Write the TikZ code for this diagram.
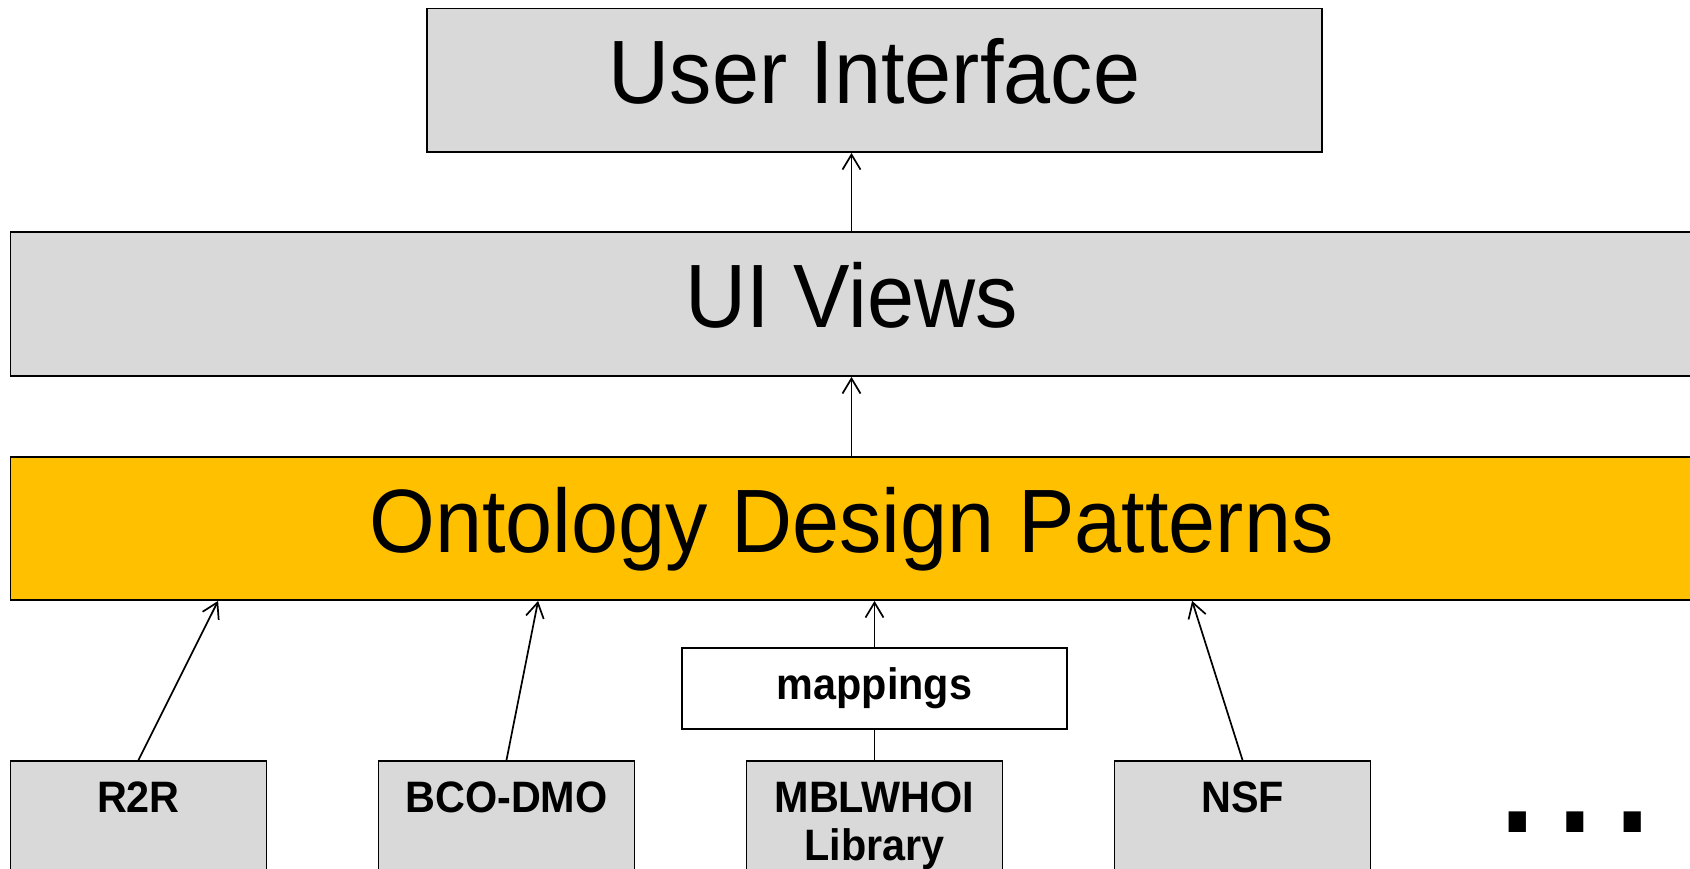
\documentclass[tikz,border=0pt]{standalone}
\usepackage{fontspec}
\setmainfont{Liberation Sans}
\newfontfamily\boxfont[FakeStretch=0.94]{Liberation Sans}
\usetikzlibrary{arrows.meta,positioning}
\definecolor{layergray}{HTML}{D9D9D9}
\definecolor{odpgold}{HTML}{FFC000}
\newcommand{\layerfont}{\boxfont\fontsize{90}{100}\selectfont}
\newcommand{\srcfont}{\boxfont\bfseries\fontsize{44}{48.3}\selectfont}

\tikzset{
  layer/.style={draw, line width=1.8pt, fill=layergray, inner sep=0pt,
    font=\layerfont, text height=66pt, text depth=19pt},
  source/.style={draw, line width=1.8pt, fill=layergray, anchor=north,
    minimum width=256pt, inner xsep=0pt, inner ysep=20.5pt, align=center,
    font=\srcfont, text depth=70pt},
  maps/.style={draw, line width=1.8pt, fill=white, inner sep=0pt,
    minimum width=385pt, minimum height=81pt, font=\srcfont},
}

\begin{document}
\begin{tikzpicture}[x=1pt, y=-1pt, >={Straight Barb[length=15pt,width=18pt]},
  line width=1.7pt]
\clip (0,0) rectangle (1690,869);

\node[layer, minimum width=895pt, minimum height=143.5pt] (ui) at (874.5,80.3) {User Interface};
\node[layer, minimum width=1682pt, minimum height=144pt] (views) at (851.5,304) {UI Views};
\node[layer, fill=odpgold, minimum width=1682pt, minimum height=143pt] (odp) at (851.5,528.5) {Ontology Design Patterns};

\node[maps] (map) at (874.5,688.5) {mappings};

\node[source] (r2r) at (138.5,760) {R2R};
\node[source] (bco) at (506.5,760) {BCO-DMO};
\node[source] (mbl) at (874.5,760) {MBLWHOI\\Library};
\node[source] (nsf) at (1242.5,760) {NSF};

\node[font=\boxfont\fontsize{193}{200}\selectfont, anchor=base, inner sep=0pt,
  text height=20pt, text depth=0pt] (more) at (1575.5,832.7) {…};

\coordinate (r2rIn) at ([xshift=208.5pt]odp.south west);
\coordinate (bcoIn) at ([xshift=528.5pt]odp.south west);
\coordinate (nsfIn) at ([xshift=1182.5pt]odp.south west);

\draw[->] (views.north) -- (views.north |- ui.south);
\draw[->] (odp.north) -- (views.south);
\draw[->] (r2r.north) -- (r2rIn);
\draw[->] (bco.north) -- (bcoIn);
\draw[->] (map.north) -- (map.north |- odp.south);
\draw (mbl.north) -- (map.south);
\draw[->] (nsf.north) -- (nsfIn);
\end{tikzpicture}
\end{document}
